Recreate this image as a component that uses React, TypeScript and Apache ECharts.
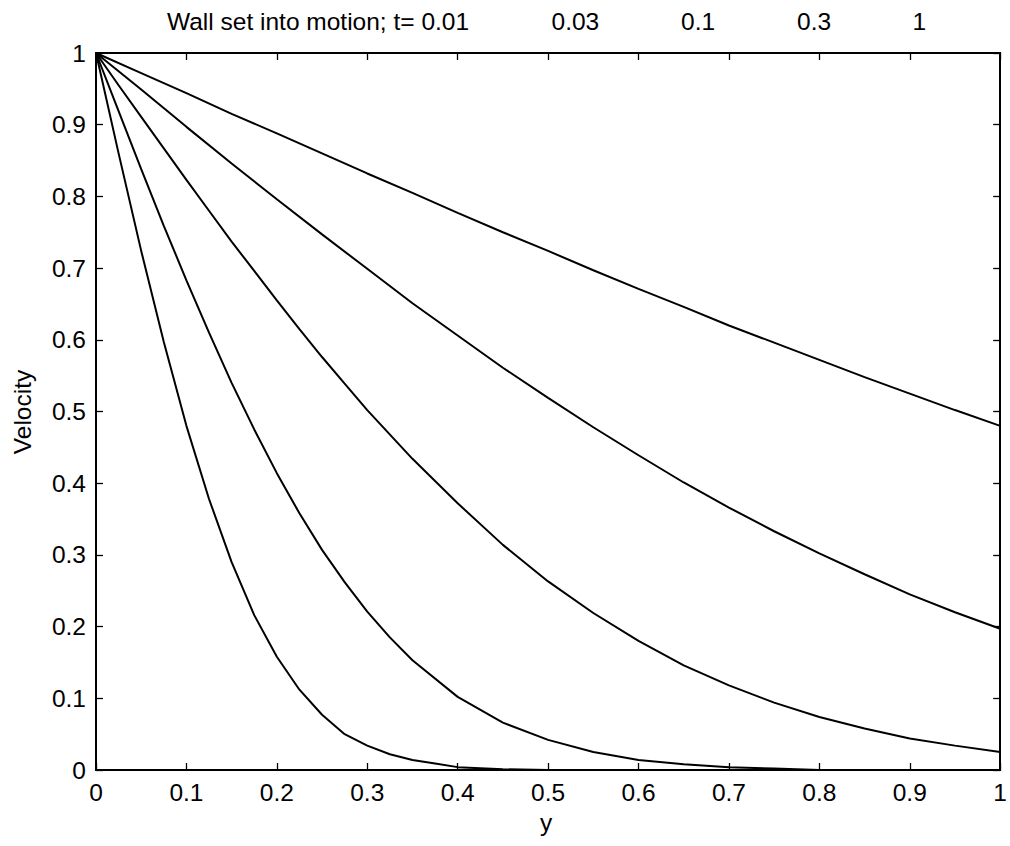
import React, { useEffect, useRef } from "react";
import * as echarts from "echarts";

const FONT = "'Liberation Sans', Arial, Helvetica, sans-serif";

// Tick values
const xTicks = [0, 0.1, 0.2, 0.3, 0.4, 0.5, 0.6, 0.7, 0.8, 0.9, 1];
const yTicks = [0, 0.1, 0.2, 0.3, 0.4, 0.5, 0.6, 0.7, 0.8, 0.9, 1];

// Title pieces
const titleMain = "Wall set into motion; t= 0.01";
const timeLabels = ["0.03", "0.1", "0.3", "1"];

// t = 0.01
const t001X = [0, 0.025, 0.05, 0.075, 0.1, 0.125, 0.15, 0.175, 0.2, 0.225, 0.25, 0.275, 0.3, 0.325, 0.35, 0.375, 0.4, 0.45, 0.5, 1];
const t001Y = [1, 0.86, 0.724, 0.597, 0.48, 0.378, 0.29, 0.216, 0.158, 0.112, 0.077, 0.05, 0.034, 0.022, 0.014, 0.009, 0.004, 0.001, 0, 0];

// t = 0.03
const t003X = [0, 0.025, 0.05, 0.075, 0.1, 0.125, 0.15, 0.175, 0.2, 0.225, 0.25, 0.275, 0.3, 0.325, 0.35, 0.4, 0.45, 0.5, 0.55, 0.6, 0.65, 0.7, 0.75, 0.8, 1];
const t003Y = [1, 0.919, 0.838, 0.759, 0.683, 0.61, 0.54, 0.475, 0.414, 0.358, 0.307, 0.262, 0.221, 0.185, 0.153, 0.102, 0.066, 0.042, 0.025, 0.014, 0.008, 0.004, 0.002, 0, 0];

// t = 0.1
const t01X = [0, 0.025, 0.05, 0.075, 0.1, 0.125, 0.15, 0.175, 0.2, 0.225, 0.25, 0.275, 0.3, 0.35, 0.4, 0.45, 0.5, 0.55, 0.6, 0.65, 0.7, 0.75, 0.8, 0.85, 0.9, 0.95, 1];
const t01Y = [1, 0.955, 0.911, 0.867, 0.823, 0.78, 0.737, 0.696, 0.655, 0.615, 0.576, 0.539, 0.502, 0.434, 0.372, 0.314, 0.263, 0.219, 0.18, 0.146, 0.118, 0.094, 0.074, 0.058, 0.044, 0.034, 0.025];

// t = 0.3
const t03X = [0, 0.05, 0.1, 0.15, 0.2, 0.25, 0.3, 0.35, 0.4, 0.45, 0.5, 0.55, 0.6, 0.65, 0.7, 0.75, 0.8, 0.85, 0.9, 0.95, 1];
const t03Y = [1, 0.949, 0.897, 0.846, 0.796, 0.747, 0.699, 0.651, 0.606, 0.561, 0.519, 0.478, 0.439, 0.401, 0.366, 0.333, 0.302, 0.273, 0.245, 0.22, 0.197];

// t = 1
const t1X = [0, 0.05, 0.1, 0.15, 0.2, 0.25, 0.3, 0.35, 0.4, 0.45, 0.5, 0.55, 0.6, 0.65, 0.7, 0.75, 0.8, 0.85, 0.9, 0.95, 1];
const t1Y = [1, 0.972, 0.944, 0.915, 0.888, 0.86, 0.832, 0.805, 0.777, 0.75, 0.724, 0.697, 0.671, 0.646, 0.62, 0.596, 0.572, 0.548, 0.525, 0.502, 0.48];

const curves = [
  { name: "t=0.01", x: t001X, y: t001Y },
  { name: "t=0.03", x: t003X, y: t003Y },
  { name: "t=0.1", x: t01X, y: t01Y },
  { name: "t=0.3", x: t03X, y: t03Y },
  { name: "t=1", x: t1X, y: t1Y },
];

export default function App() {
  const ref = useRef<HTMLDivElement>(null);
  useEffect(() => {
    document.body.style.margin = "0";
    const chart = echarts.init(ref.current!, null, { renderer: "svg" });
    const FS = 24.5;
    const axisBase = (showLabel: boolean) => ({
      type: "value",
      min: xTicks[0],
      max: xTicks[xTicks.length - 1],
      interval: 0.1,
      axisLine: { show: true, onZero: false, lineStyle: { color: "#000", width: 2 } },
      axisTick: { show: true, inside: true, length: 7, lineStyle: { color: "#000", width: 1.3 } },
      splitLine: { show: false },
      axisLabel: {
        show: showLabel,
        color: "#000",
        fontSize: FS,
        fontFamily: FONT,
        margin: 10,
        showMinLabel: true,
        showMaxLabel: true,
      },
    });
    const titleX = [167, 551.5, 681, 797, 912.5];
    const titleTexts = [titleMain, ...timeLabels];
    chart.setOption({
      animation: false,
      backgroundColor: "#fff",
      grid: { left: 96, top: 53, width: 908, height: 717, containLabel: false },
      xAxis: [
        { ...axisBase(true), position: "bottom" },
        { ...axisBase(false), position: "top" },
      ],
      yAxis: [
        { ...axisBase(true), min: yTicks[0], max: yTicks[yTicks.length - 1], position: "left" },
        { ...axisBase(false), min: yTicks[0], max: yTicks[yTicks.length - 1], position: "right" },
      ],
      graphic: [
        ...titleTexts.map((t, i) => ({
          type: "text",
          x: titleX[i],
          y: 21,
          style: {
            text: t,
            fontSize: FS,
            fontFamily: FONT,
            fill: "#000",
            textAlign: "left",
            textVerticalAlign: "middle",
            align: "left",
            verticalAlign: "middle",
          },
        })),
        {
          type: "text",
          x: 22,
          y: 412,
          rotation: Math.PI / 2,
          style: {
            text: "Velocity",
            fontSize: FS,
            fontFamily: FONT,
            fill: "#000",
            textAlign: "center",
            textVerticalAlign: "middle",
            align: "center",
            verticalAlign: "middle",
          },
        },
        {
          type: "text",
          x: 546,
          y: 822,
          style: {
            text: "y",
            fontSize: FS,
            fontFamily: FONT,
            fill: "#000",
            textAlign: "center",
            textVerticalAlign: "middle",
            align: "center",
            verticalAlign: "middle",
          },
        },
      ],
      series: curves.map((c) => ({
        name: c.name,
        type: "line",
        xAxisIndex: 0,
        yAxisIndex: 0,
        data: c.x.map((xv, i) => [xv, c.y[i]]),
        showSymbol: false,
        symbol: "none",
        lineStyle: { color: "#000", width: 2 },
        itemStyle: { color: "#000" },
        z: 3,
      })),
    });
    return () => chart.dispose();
  }, []);
  return <div ref={ref} style={{ width: 1010, height: 846 }} />;
}
